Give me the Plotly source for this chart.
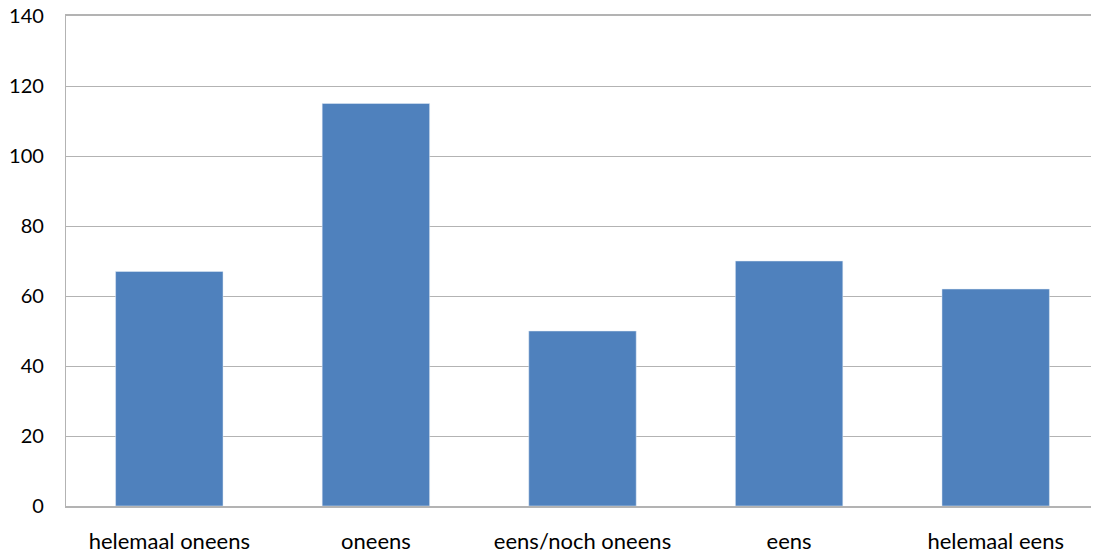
import plotly.graph_objects as go

categories = ["helemaal oneens", "oneens", "eens/noch oneens", "eens", "helemaal eens"]
values = [67, 115, 50, 70, 62]
y_ticks = [0, 20, 40, 60, 80, 100, 120, 140]

fig = go.Figure(go.Bar(x=categories, y=values, marker_color="#4F81BD", width=0.52))

fig.update_layout(
    width=1091, height=547,
    margin=dict(l=58, r=0, t=8, b=49, pad=0),
    plot_bgcolor="white", paper_bgcolor="white",
    font=dict(family="Lato, Open Sans, sans-serif", size=20, color="#000000"),
    showlegend=False,
)
fig.update_xaxes(
    showgrid=False, showline=True, linecolor="#B3B3B3", linewidth=1.5, mirror=True,
    ticks="", ticklabelstandoff=15, range=[-0.5, 4.5], automargin=False,
    tickfont=dict(size=22), ticklabeloverflow="allow",
)
fig.update_yaxes(
    range=[0, 140], tickvals=y_ticks, showgrid=True, gridcolor="#B3B3B3", gridwidth=1.2,
    showline=True, linecolor="#B3B3B3", linewidth=1.2, zeroline=False,
    ticks="", ticklabelstandoff=17, automargin=False, ticklabeloverflow="allow",
)
fig.write_html("out.html")
